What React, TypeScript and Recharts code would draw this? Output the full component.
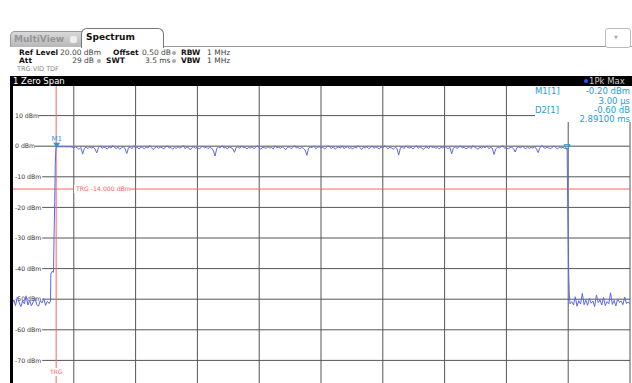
import React from 'react';
import { LineChart, Line, XAxis, YAxis, ReferenceLine, ReferenceDot } from 'recharts';

// grid / axis
const levelTicks = [10, 0, -10, -20, -30, -40, -50, -60, -70];
const levelLabels = ['10 dBm', '0 dBm', '-10 dBm', '-20 dBm', '-30 dBm', '-40 dBm', '-50 dBm', '-60 dBm', '-70 dBm'];
const timeGrid = [0.1, 0.45, 0.8, 1.15, 1.5, 1.85, 2.2, 2.55, 2.9, 3.25];

// trace (time in ms, level in dBm)
const preTrigStart = -0.25;
const preTrigStep = 0.01;
const preTrigLevels = [
  -51.8, -50.2, -52.1, -49.3, -51.0, -52.4, -50.6, -51.5, -48.9, -51.9, -50.4,
  -52.2, -50.9, -49.6, -51.7, -52.3, -50.5, -51.2, -49.8, -52.0, -50.7, -51.4,
];
const riseTimes = [-0.032, -0.03, -0.022, -0.015, -0.012, -0.008, -0.005, -0.002];
const riseLevels = [-50.6, -41.8, -40.9, -41.2, -30, -18, -6, -1.5];
const burstStart = 0;
const burstStep = 0.01;
const burstLevels = [
  -0.2, -0.2, -0.2, -0.2, -0.2, -0.2, -0.2, -0.2, -0.2, -0.3,
  -0.5, -0.2, -0.6, -1.0, -0.4, -2.6, -0.7, -0.3, -0.8, -0.2,
  -0.6, -0.3, -0.9, -2.2, -0.4, 0.1, -0.7, -0.3, -0.5, -0.9,
  -0.2, -0.6, 0.2, -0.4, -0.8, -0.3, -1.0, -0.5, -0.2, -0.7,
  -2.4, -0.5, -0.3, -0.8, 0.1, -0.6, -0.4, -0.9, -0.2, -0.5,
  -0.8, -0.3, -0.6, 0.2, -0.5, -1.1, -0.4, -0.2, -0.7, -0.3,
  -0.5, -0.9, -0.2, 0.1, -0.6, -0.4, -1.0, -0.3, -0.7, -0.2,
  -0.6, -0.4, 0.2, -0.8, -0.3, -0.5, -1.2, -0.4, -0.2, -0.7,
  -0.3, -0.9, -0.5, 0.1, -0.6, -0.2, -0.8, -0.4, -0.6, -1.4,
  -3.2, -0.7, -0.3, -0.5, 0.2, -0.6, -0.4, -0.9, -0.2, -0.5,
  -0.8, -2.0, -0.4, -0.2, -0.7, 0.1, -0.5, -0.3, -0.9, -0.4,
  -0.6, -0.2, -0.8, -0.4, 0.2, -0.6, -1.0, -0.3, -0.5, -0.7,
  -0.2, -0.6, -0.4, -0.9, 0.1, -0.5, -0.3, -0.7, -0.2, -0.6,
  -1.1, -0.4, -0.2, -0.8, -0.5, 0.2, -0.6, -0.3, -0.9, -0.4,
  -0.7, -1.2, -3.0, -0.6, -0.3, -0.5, 0.1, -0.8, -0.4, -0.2,
  -0.6, -0.3, -0.9, -0.5, 0.2, -0.4, -0.7, -0.2, -1.0, -0.5,
  -0.3, -0.6, 0.1, -0.8, -0.4, -0.2, -0.7, -0.5, -0.9, -0.3,
  -0.6, 0.2, -0.4, -1.1, -0.3, -0.6, -0.2, -0.8, -0.5, 0.1,
  -0.7, -0.3, -0.5, -0.9, -0.2, -0.6, 0.2, -0.4, -0.8, -0.3,
  -0.6, -1.0, -0.4, -0.7, -2.9, -0.5, -0.2, -0.8, 0.1, -0.4,
  -0.6, -0.3, -0.9, -0.5, 0.2, -0.7, -0.2, -0.6, -1.1, -0.4,
  -0.3, -0.8, 0.1, -0.5, -0.2, -0.7, -0.4, -0.9, -0.3, -0.6,
  0.2, -0.5, -0.8, -0.3, -2.5, -0.6, -0.2, -0.7, -0.4, 0.1,
  -0.6, -0.3, -0.9, -0.5, -0.2, -0.8, 0.2, -0.4, -0.6, -1.0,
  -0.3, -0.7, -0.2, -0.5, 0.1, -0.8, -0.4, -0.6, -2.7, -0.9,
  -0.3, -0.6, -0.2, 0.2, -0.7, -0.4, -0.9, -0.5, -0.3, -0.8,
  -1.9, -0.4, -0.2, -0.6, 0.1, -0.5, -0.8, -0.3, -0.7, -0.4,
  -0.6, -0.2, -0.9, -2.1, -0.5, 0.2, -0.4, -0.7, -0.3, -0.6,
  -0.8, -0.4, 0.1, -0.5, -0.9, -0.3, -0.6, -0.4, -0.7, -0.8,
];
const fallTimes = [2.894, 2.897, 2.9, 2.903, 2.906, 2.91];
const fallLevels = [-0.8, -18, -30, -42, -48, -51.5];
const postStart = 2.92;
const postStep = 0.01;
const postLevels = [
  -50.8, -51.9, -49.2, -52.3, -50.5, -51.6, -48.1, -51.8, -50.3, -52.0, -49.7, -51.3,
  -50.6, -52.4, -48.6, -51.1, -50.2, -51.9, -49.4, -52.1, -50.8, -51.5, -47.9, -51.7,
  -50.4, -52.2, -49.9, -51.0, -50.6, -51.8, -49.3, -51.4, -50.9, -51.6,
];

const markerNames = ['M1', 'D2'];
const markerTimes = [0.003, 2.894];
const markerLevels = [-0.2, -0.8];

const trigLevel = -14;
const trigTime = 0;

const trace = [
  ...preTrigLevels.map((v, i) => ({ t: preTrigStart + i * preTrigStep, level: v })),
  ...riseTimes.map((t, i) => ({ t, level: riseLevels[i] })),
  ...burstLevels.map((v, i) => ({ t: burstStart + i * burstStep, level: v })),
  ...fallTimes.map((t, i) => ({ t, level: fallLevels[i] })),
  ...postLevels.map((v, i) => ({ t: postStart + i * postStep, level: v })),
];

const FONT = '"DejaVu Sans", Verdana, sans-serif';
const GRID = '#555';
const TRACE = '#5a68ee';
const RED = '#ff6262';
const CYAN = '#1e9bd7';

const LevelLabel = ({ viewBox, text }: any) => {
  if (!viewBox) return null;
  const w = text.length * 3.6 + 4;
  return (
    <g>
      <rect x={viewBox.x + 1} y={viewBox.y - 4} width={w} height={8} fill="#fff" />
      <text x={viewBox.x + 3} y={viewBox.y + 2.2} fontSize={6.2} fill="#333" fontFamily={FONT}>
        {text}
      </text>
    </g>
  );
};

const TrigLevelLabel = ({ viewBox }: any) => {
  if (!viewBox) return null;
  return (
    <g>
      <rect x={viewBox.x + 62} y={viewBox.y - 4} width={56} height={8} fill="#fff" />
      <text x={viewBox.x + 64} y={viewBox.y + 2.2} fontSize={6.2} fill={RED} fontFamily={FONT}>
        TRG  -14.000 dBm
      </text>
    </g>
  );
};

const TrigTimeLabel = ({ viewBox }: any) => {
  if (!viewBox) return null;
  const y = viewBox.y + viewBox.height - 17;
  return (
    <g>
      <rect x={viewBox.x - 7} y={y - 6} width={14} height={8} fill="#fff" />
      <text x={viewBox.x} y={y} fontSize={6} fill={RED} textAnchor="middle" fontFamily={FONT}>
        TRG
      </text>
    </g>
  );
};

const MarkerGlyph = ({ cx, cy, name }: any) => {
  if (cx == null) return null;
  if (name === 'M1') {
    return (
      <g>
        <path d={`M${cx - 3.5},${cy - 4} L${cx + 3.5},${cy - 4} L${cx},${cy + 1} Z`} fill={CYAN} />
        <text x={cx} y={cy - 6} fontSize={7} fill={CYAN} textAnchor="middle" fontFamily={FONT}>
          M1
        </text>
      </g>
    );
  }
  return (
    <path
      d={`M${cx - 3},${cy - 4} L${cx + 3},${cy - 4} L${cx},${cy + 1} Z`}
      fill="none"
      stroke={CYAN}
      strokeWidth={1}
    />
  );
};

const T = ({ x, y, children, bold, color, size, right }: any) => (
  <div
    style={{
      position: 'absolute',
      top: y,
      left: right ? undefined : x,
      right: right ? 632 - x : undefined,
      fontSize: size || 7.5,
      fontWeight: bold ? 'bold' : 'normal',
      color: color || '#444',
      lineHeight: 1,
      whiteSpace: 'nowrap',
      fontFamily: FONT,
    }}
  >
    {children}
  </div>
);

const Dot = ({ x, y }: any) => (
  <div style={{ position: 'absolute', left: x, top: y, width: 4, height: 4, borderRadius: 2, background: '#aaa' }} />
);

export default function App() {
  return (
    <div style={{ position: 'absolute', left: 0, top: 0, width: 632, height: 383, overflow: 'hidden', background: '#fff', fontFamily: FONT }}>
      <LineChart width={632} height={391} data={trace} margin={{ top: 85, right: 2, bottom: 0, left: 12 }}>
        <XAxis type="number" dataKey="t" domain={[-0.25, 3.25]} hide allowDataOverflow />
        <YAxis type="number" domain={[-80, 20]} hide allowDataOverflow />
        {timeGrid.map((t) => (
          <ReferenceLine key={'x' + t} x={t} stroke={GRID} strokeWidth={1} />
        ))}
        {levelTicks.map((v, i) => (
          <ReferenceLine
            key={'y' + v}
            y={v}
            stroke={v === 0 ? '#888' : GRID}
            strokeWidth={v === 0 ? 1.5 : 1}
            label={(p: any) => <LevelLabel {...p} text={levelLabels[i]} />}
          />
        ))}
        <ReferenceLine y={trigLevel} stroke={RED} strokeWidth={1} label={(p: any) => <TrigLevelLabel {...p} />} />
        <ReferenceLine x={trigTime} stroke={RED} strokeWidth={1} label={(p: any) => <TrigTimeLabel {...p} />} />
        <Line
          type="linear"
          dataKey="level"
          stroke={TRACE}
          strokeWidth={1}
          dot={false}
          isAnimationActive={false}
        />
        {markerNames.map((n, i) => (
          <ReferenceDot
            key={n}
            x={markerTimes[i]}
            y={markerLevels[i]}
            r={3}
            shape={(p: any) => <MarkerGlyph {...p} name={n} />}
          />
        ))}
      </LineChart>

      {/* header */}
      <div style={{ position: 'absolute', left: 10, top: 46, width: 622, height: 1, background: '#999' }} />
      <div
        style={{
          position: 'absolute', left: 10, top: 31, width: 71, height: 15,
          background: 'linear-gradient(#d8d8d8, #b8b8b8)', borderRadius: '5px 0 0 0',
          border: '1px solid #999', borderBottom: 'none',
        }}
      />
      <T x={14} y={35} bold color="#959595" size={9}>MultiView</T>
      <div style={{ position: 'absolute', left: 70, top: 36, width: 7, height: 7, borderRadius: 2, background: '#eee' }} />
      <div
        style={{
          position: 'absolute', left: 81, top: 28, width: 81, height: 19,
          background: '#fff', borderRadius: '6px 6px 0 0', border: '1px solid #777', borderBottom: 'none',
        }}
      />
      <T x={86} y={33} bold color="#111" size={9}>Spectrum</T>
      <div
        style={{
          position: 'absolute', left: 605, top: 28, width: 24, height: 18,
          border: '1px solid #bbb', borderRadius: 3, background: '#fff',
        }}
      />
      <T x={614} y={35} color="#aaa" size={5}>▼</T>

      <T x={19} y={49} bold color="#111">Ref Level</T>
      <T x={60} y={49}>20.00 dBm</T>
      <T x={113} y={49} bold color="#111">Offset</T>
      <T x={142} y={49}>0.50 dB</T>
      <Dot x={172} y={51} />
      <T x={181} y={49} bold color="#111">RBW</T>
      <T x={207} y={49}>1 MHz</T>

      <T x={19} y={57} bold color="#111">Att</T>
      <T x={94} y={57} right>29 dB</T>
      <Dot x={97} y={59} />
      <T x={106} y={57} bold color="#111">SWT</T>
      <T x={145} y={57}>3.5 ms</T>
      <Dot x={172} y={59} />
      <T x={181} y={57} bold color="#111">VBW</T>
      <T x={207} y={57}>1 MHz</T>

      <T x={17} y={66} color="#888" size={6.5}>TRG:VID TDF</T>

      <div style={{ position: 'absolute', left: 10, top: 76, width: 622, height: 10, background: '#000' }} />
      <T x={13} y={77} color="#fff" size={8.5}>1 Zero Span</T>
      <div style={{ position: 'absolute', left: 584, top: 79, width: 4, height: 4, borderRadius: 2, background: '#3050ff' }} />
      <T x={589} y={77} color="#ccc" size={8.5}>1Pk Max</T>

      {/* plot left border */}
      <div style={{ position: 'absolute', left: 10, top: 86, width: 3, height: 300, background: '#000' }} />

      {/* marker table */}
      <div style={{ position: 'absolute', left: 535, top: 86, width: 97, height: 36, background: '#fff' }} />
      <T x={535} y={87} color={CYAN} size={8.5}>M1[1]</T>
      <T x={630} y={87} right color={CYAN} size={8.5}>-0.20 dBm</T>
      <T x={630} y={96.5} right color={CYAN} size={8.5}>3.00 µs</T>
      <T x={535} y={106} color={CYAN} size={8.5}>D2[1]</T>
      <T x={630} y={106} right color={CYAN} size={8.5}>-0.60 dB</T>
      <T x={630} y={115} right color={CYAN} size={8.5}>2.89100 ms</T>
    </div>
  );
}
